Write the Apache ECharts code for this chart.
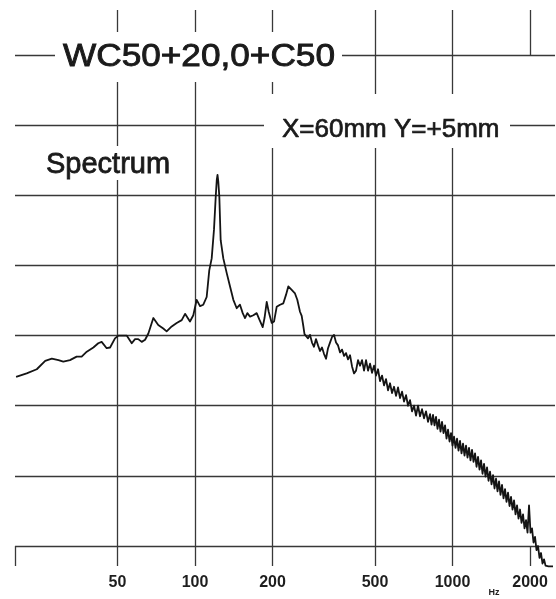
<!DOCTYPE html>
<html>
<head>
<meta charset="utf-8">
<script src="https://cdn.jsdelivr.net/npm/echarts@6/dist/echarts.min.js"></script>
<style>
  html, body { margin: 0; padding: 0; background: #fff; }
  #chart { width: 556px; height: 599px; }
</style>
</head>
<body>
<div id="chart"></div>
<script>
// Frequency axis: grid lines / ticks (Hz) and the labelled subset
const tickHz = [20, 50, 100, 200, 500, 1000, 2000];
const labelHz = [50, 100, 200, 500, 1000, 2000];
const topTickHz = [50, 100, 200, 500, 1000, 2000];
const freqMinHz = 20;
const freqMaxHz = 2500;

// Level axis (dB, 10 dB per division, unlabelled)
const levelMin = 0;
const levelMax = 70;
const levelStep = 10;

// Spectrum below ~270 Hz
const lowHz = [20.2, 22.2, 24.3, 26.2, 27.8, 29.5, 30.8, 32.7, 34.7, 36.3, 38.0, 40.3, 42.1, 43.4, 45.4, 46.8, 48.9, 50.4, 54.3, 56.8,
  58.5, 60.2, 62.1, 64.0, 65.9, 68.9, 72.0, 75.3, 77.6, 81.2, 84.9, 88.8, 91.5, 95.6, 98.5, 101.5, 104.6, 107.7, 111.0, 113.6,
  116.1, 118.5, 120.4, 121.5, 122.3, 123.2, 124.3, 125.8, 128.8, 132.8, 136.8, 140.9, 145.2, 149.5, 153.2, 156.4, 159.7, 163.6, 168.5, 173.6,
  177.7, 183.2, 186.2, 189.9, 193.3, 198.6, 202.7, 207.6, 213.9, 220.3, 225.6, 230.3, 237.4, 244.5, 249.6, 255.7, 259.6, 263.3, 266.2];
const lowDb = [24.1, 24.6, 25.2, 26.4, 26.7, 26.5, 26.3, 26.5, 27.0, 27.0, 27.7, 28.3, 28.9, 29.1, 28.2, 28.3, 29.6, 30.0, 30.0, 28.9,
  29.5, 29.5, 29.1, 29.4, 30.3, 32.5, 31.5, 31.0, 30.6, 31.3, 31.8, 32.2, 33.1, 32.0, 32.9, 35.1, 34.2, 34.4, 35.5, 39.3,
  41.0, 45.1, 49.9, 52.2, 52.9, 51.9, 49.8, 43.6, 41.0, 38.9, 37.0, 35.1, 33.9, 34.4, 33.2, 32.5, 33.2, 32.7, 32.9, 33.2,
  32.3, 31.2, 32.5, 34.8, 33.4, 31.8, 32.0, 34.1, 34.4, 34.6, 35.8, 37.0, 36.5, 36.0, 35.1, 33.4, 32.8, 31.4, 30.2];

// Spectrum above ~270 Hz (dense, ragged part)
const highHz = [269.8, 274.7, 279.6, 284.7, 289.8, 295.0, 300.4, 305.8, 311.3, 316.9, 322.7, 328.5, 334.4, 340.5, 346.6, 352.9, 359.3, 365.8, 372.4, 379.1,
  385.9, 392.9, 400.0, 407.2, 414.5, 422.0, 429.6, 437.4, 445.3, 453.3, 461.5, 469.8, 478.3, 486.9, 495.7, 504.6, 513.7, 523.0, 532.4, 542.0,
  551.8, 561.8, 571.9, 582.2, 592.7, 603.4, 614.3, 625.4, 636.7, 648.2, 659.9, 671.8, 683.9, 696.2, 708.8, 721.6, 734.6, 747.8, 761.3, 775.1,
  789.1, 803.3, 817.8,
  828.8, 840.0, 851.4, 862.9, 874.5, 886.3, 898.3, 910.4, 922.7, 935.2, 947.8, 960.6, 973.6, 986.7, 1000.0, 1013.5, 1027.2, 1041.1, 1055.2, 1069.4,
  1083.8, 1098.4, 1113.3, 1128.3, 1143.5, 1159.0, 1174.6, 1190.5, 1206.6, 1222.9, 1239.4, 1256.2, 1273.1, 1290.3, 1307.7, 1325.4, 1343.3, 1361.4, 1379.8, 1398.4,
  1417.3, 1436.4, 1455.8, 1475.5, 1495.4, 1515.6, 1536.0, 1556.8, 1577.8, 1599.1, 1620.7, 1642.6, 1664.7, 1687.2, 1710.0, 1733.1, 1756.5, 1780.2, 1804.2, 1828.6,
  1853.3, 1878.3, 1903.6, 1929.3, 1955.4, 1981.8, 2008.5, 2035.6, 2063.1, 2091.0, 2119.2, 2147.8, 2176.8, 2206.2, 2236.0, 2266.2, 2296.8, 2327.8, 2359.2, 2391.0,
  2423.3, 2456.0];
const highDb = [30.0, 29.6, 30.1, 29.0, 28.4, 29.5, 28.6, 27.8, 28.3, 27.4, 26.7, 28.2, 29.0, 29.8, 30.1, 29.0, 28.6, 27.6, 28.0, 27.1,
  27.5, 26.6, 27.2, 25.6, 24.6, 25.0, 26.5, 25.7, 26.5, 25.0, 26.5, 25.0, 26.0, 24.7, 25.7, 24.3, 25.2, 23.5, 24.3, 22.9,
  23.8, 22.2, 23.2, 21.8, 22.7, 21.4, 22.6, 21.1, 22.0, 20.6, 21.5, 20.0, 20.8, 19.2, 20.0, 18.6, 20.0, 18.5, 19.5, 18.2,
  19.2, 17.7, 18.8,
  17.3, 18.7, 17.2, 18.4, 16.7, 18.0, 16.3, 17.7, 16.1, 17.2, 15.3, 16.6, 14.9, 16.1, 14.3, 15.6, 14.0, 15.3, 13.6, 15.0,
  13.2, 14.6, 12.9, 14.3, 12.6, 14.0, 12.2, 13.7, 12.0, 13.2, 11.3, 12.7, 10.9, 12.2, 10.3, 11.7, 9.9, 11.2, 9.3, 10.6,
  8.8, 10.1, 8.2, 9.6, 7.8, 9.2, 7.3, 8.7, 6.8, 8.1, 6.3, 7.6, 5.7, 7.0, 5.2, 6.5, 4.5, 5.8, 3.9, 5.2,
  3.3, 4.5, 2.5, 3.7, 1.9, 5.8, 1.9, 2.5, 0.5, 1.3, -0.6, 0.0, -1.7, -1.0, -2.5, -1.9, -2.8, -2.6, -2.9, -2.9,
  -2.9, -2.9];

const lg = Math.log10;
const allDb = lowDb.concat(highDb);
const spectrum = lowHz.concat(highHz).map((f, i) => [lg(f), allDb[i]]);

const gridColor = '#383838';
const inkColor = '#141414';
const fontFamily = '"Liberation Sans", Arial, Helvetica, sans-serif';

const chart = echarts.init(document.getElementById('chart'), null, { renderer: 'canvas' });

chart.setOption({
  animation: false,
  backgroundColor: '#ffffff',
  grid: { left: 15, right: 1, top: 55, bottom: 53, containLabel: false },
  xAxis: [
    {
      type: 'value',
      min: lg(freqMinHz),
      max: lg(freqMaxHz),
      position: 'bottom',
      axisLine: { show: false },
      axisTick: {
        show: true,
        inside: false,
        length: 20,
        customValues: tickHz.map(lg),
        lineStyle: { color: gridColor, width: 1.3 }
      },
      axisLabel: {
        show: true,
        customValues: labelHz.map(lg),
        margin: 29,
        fontSize: 16,
        fontWeight: 'bold',
        fontFamily: fontFamily,
        color: '#1e1e1e',
        formatter: (v) => String(Math.round(Math.pow(10, v)))
      },
      splitLine: {
        show: true,
        showMinLine: false,
        showMaxLine: false,
        lineStyle: { color: gridColor, width: 1.3 }
      }
    },
    {
      type: 'value',
      min: lg(freqMinHz),
      max: lg(freqMaxHz),
      position: 'top',
      axisLine: { show: false },
      axisTick: {
        show: true,
        inside: false,
        length: 45,
        customValues: topTickHz.map(lg),
        lineStyle: { color: gridColor, width: 1.3 }
      },
      axisLabel: { show: false },
      splitLine: { show: false }
    }
  ],
  yAxis: {
    type: 'value',
    min: levelMin,
    max: levelMax,
    interval: levelStep,
    axisLine: { show: false },
    axisTick: { show: false },
    axisLabel: { show: false },
    splitLine: { show: true, lineStyle: { color: gridColor, width: 1.3 } }
  },
  series: [
    {
      type: 'line',
      xAxisIndex: 0,
      data: spectrum,
      showSymbol: false,
      clip: false,
      z: 5,
      lineStyle: { color: inkColor, width: 1.8, join: 'round' }
    }
  ],
  graphic: [
    { type: 'rect', z: 50, shape: { x: 55, y: 32, width: 287, height: 50 }, style: { fill: '#ffffff' } },
    { type: 'rect', z: 50, shape: { x: 264, y: 94, width: 246, height: 54 }, style: { fill: '#ffffff' } },
    { type: 'rect', z: 50, shape: { x: 40, y: 146, width: 135, height: 34 }, style: { fill: '#ffffff' } },
    {
      type: 'text', z: 60, x: 63, y: 57, scaleX: 1.1,
      style: { text: 'WC50+20,0+C50', fontSize: 32, fontFamily: fontFamily, fill: '#1a1a1a',
               stroke: '#1a1a1a', lineWidth: 0.9, textAlign: 'left', textVerticalAlign: 'middle' }
    },
    {
      type: 'text', z: 60, x: 282, y: 130,
      style: { text: 'X=60mm Y=+5mm', fontSize: 26, fontFamily: fontFamily, fill: '#1a1a1a',
               stroke: '#1a1a1a', lineWidth: 0.7, textAlign: 'left', textVerticalAlign: 'middle' }
    },
    {
      type: 'text', z: 60, x: 46, y: 165,
      style: { text: 'Spectrum', fontSize: 29, fontFamily: fontFamily, fill: '#1a1a1a',
               stroke: '#1a1a1a', lineWidth: 0.8, textAlign: 'left', textVerticalAlign: 'middle' }
    },
    {
      type: 'text', z: 60, x: 494, y: 593,
      style: { text: 'Hz', fontSize: 9, fontWeight: 'bold', fontFamily: fontFamily, fill: '#1e1e1e',
               textAlign: 'center', textVerticalAlign: 'middle' }
    }
  ]
});
</script>
</body>
</html>
